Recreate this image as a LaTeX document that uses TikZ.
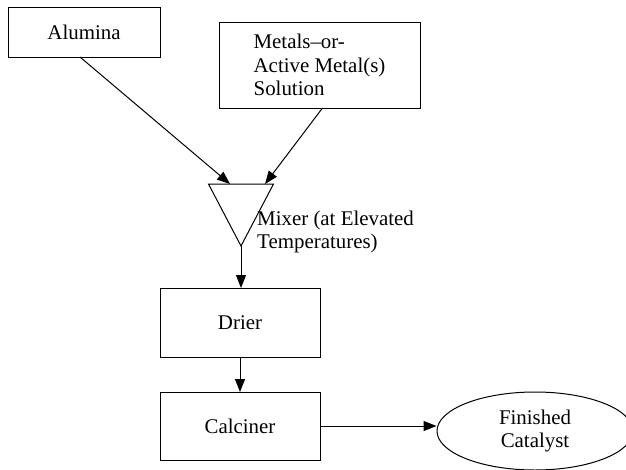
\documentclass[tikz,border=0pt]{standalone}
\usepackage{fontspec}
\setmainfont{Liberation Serif}
\usetikzlibrary{arrows.meta,shapes.geometric}

\begin{document}
\begin{tikzpicture}[
        x=1pt, y=-1pt,
        every node/.style={font=\fontsize{20.9}{23.5}\selectfont},
        unit/.style={rectangle, draw, line width=1pt, inner sep=0pt, outer sep=0pt},
        flow/.style={draw, line width=1pt, -{Triangle[length=13pt,width=10pt]}},
        mixbox/.style={isosceles triangle, shape border rotate=-90, isosceles triangle stretches,
            draw, line width=1pt, inner sep=0pt, outer sep=0pt, minimum width=65pt, minimum height=62pt},
        product/.style={ellipse, draw, line width=1pt, minimum width=196pt, minimum height=78pt, inner sep=0pt, align=center}
    ]
    \useasboundingbox (0,0) rectangle (626,469);
    \node[unit, minimum width=152pt, minimum height=50pt] (alumina) at (84,32) {Alumina};
    \node[unit, minimum width=201pt, minimum height=86pt, align=left] (metals) at (319.5,65)
        {Metals--or-\\Active Metal(s)\\Solution};
    \node[mixbox, anchor=apex] (mixer) at (241,246) {};
    \node[anchor=west, align=left, inner sep=0pt] (mixlabel) at (257,232) {Mixer (at Elevated\\Temperatures)};
    \node[unit, minimum width=160pt, minimum height=69pt] (drier) at (240,322.5) {Drier};
    \node[unit, minimum width=160pt, minimum height=68pt] (calciner) at (240,426) {Calciner};
    \node[product] (catalyst) at (535,431) {Finished\\Catalyst};
    % streams
    \draw[flow] ([xshift=-4pt]alumina.south) -- ([xshift=-11pt]mixer.north);
    \draw[flow] ([xshift=3pt]metals.south) -- ([xshift=24pt]mixer.north);
    \draw[flow] (mixer.apex) -- (mixer.apex |- drier.north);
    \draw[flow] (drier) -- (calciner);
    \draw[flow] (calciner.east) -- (calciner.east -| catalyst.west);
\end{tikzpicture}
\end{document}
